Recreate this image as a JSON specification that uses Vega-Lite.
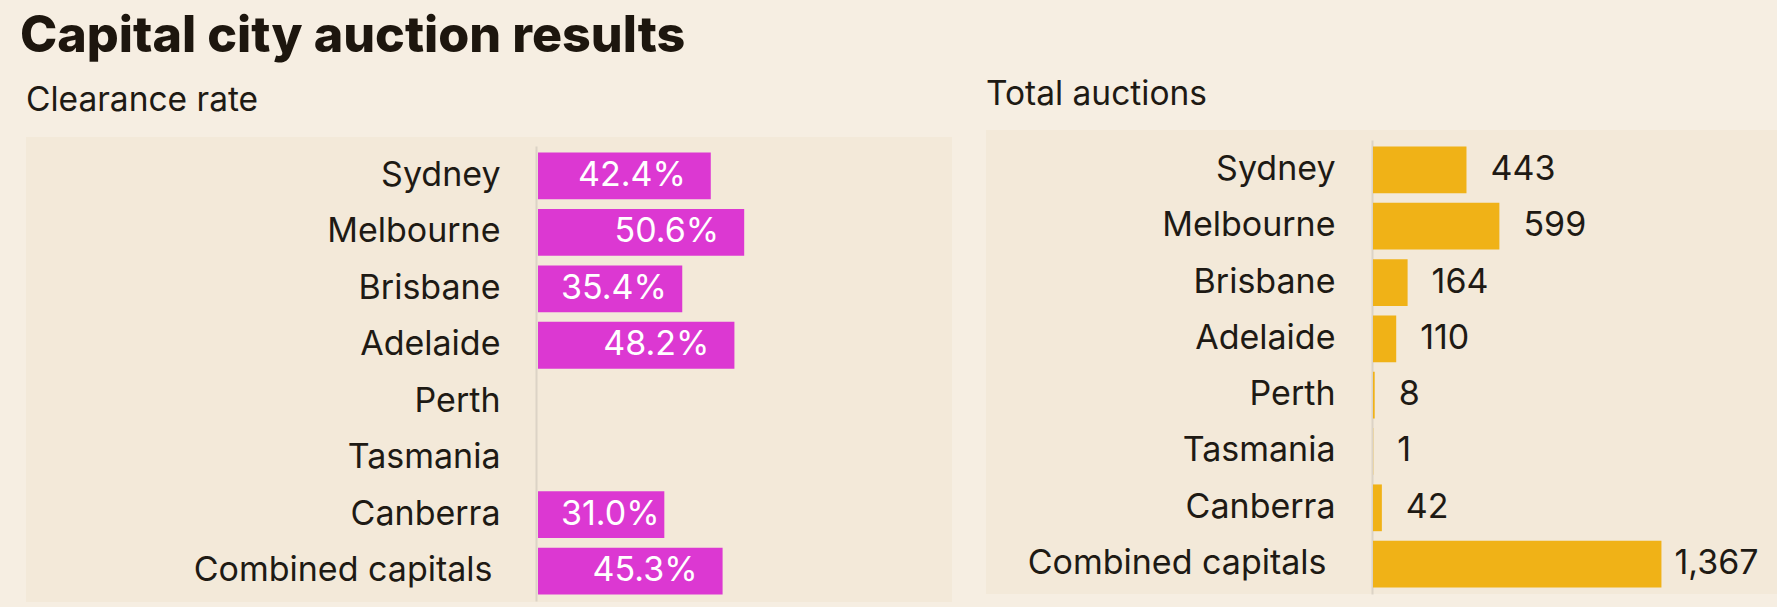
{
  "$schema": "https://vega.github.io/schema/vega-lite/v6.json",
  "background": "#F6EEE2",
  "padding": {"left": 12, "top": 11, "right": 0, "bottom": 0},
  "title": {
    "text": "Capital city auction results",
    "anchor": "start",
    "font": "Inter",
    "fontSize": 50.2,
    "fontWeight": 800,
    "color": "#1D160E",
    "offset": 14.5,
    "dx": 1
  },
  "datasets": {
    "auctions": [
      {"city": "Sydney", "clearance": 0.424, "total": 443},
      {"city": "Melbourne", "clearance": 0.506, "total": 599},
      {"city": "Brisbane", "clearance": 0.354, "total": 164},
      {"city": "Adelaide", "clearance": 0.482, "total": 110},
      {"city": "Perth", "clearance": null, "total": 8},
      {"city": "Tasmania", "clearance": null, "total": 1},
      {"city": "Canberra", "clearance": 0.31, "total": 42},
      {"city": "Combined capitals", "clearance": 0.453, "total": 1367}
    ]
  },
  "spacing": 20,
  "hconcat": [
    {
      "width": 940,
      "height": 479,
      "view": {"fill": "#F3E9D9", "stroke": "#F6EEE2", "strokeWidth": 14},
      "title": {"text": "Clearance rate", "offset": 12, "dx": 7},
      "data": {"name": "auctions"},
      "encoding": {
        "y": {
          "field": "city",
          "type": "nominal",
          "sort": null,
          "scale": {
            "domain": ["Sydney", "Melbourne", "Brisbane", "Adelaide", "Perth", "Tasmania", "Canberra", "Combined capitals"],
            "range": [16, 471],
            "paddingInner": 0.17,
            "paddingOuter": 0.115
          },
          "axis": {
            "offset": -517,
            "labelPadding": {"condition": {"test": "datum.value == 'Combined capitals'", "value": 44}, "value": 36}
          }
        }
      },
      "layer": [
        {
          "mark": {"type": "bar", "color": "#DC38D2"},
          "encoding": {
            "x": {
              "field": "clearance",
              "type": "quantitative",
              "scale": {"domain": [0, 1], "range": [519, 926.5]},
              "axis": null
            }
          }
        },
        {
          "transform": [{"filter": "datum.clearance != null && datum.clearance >= 0.4"}],
          "mark": {"type": "text", "align": "right", "dx": -25, "color": "#FFFFFF", "font": "Inter", "fontSize": 34},
          "encoding": {
            "x": {"field": "clearance", "type": "quantitative"},
            "text": {"field": "clearance", "type": "quantitative", "format": ".1%"}
          }
        },
        {
          "transform": [{"filter": "datum.clearance != null && datum.clearance < 0.4"}],
          "mark": {"type": "text", "align": "left", "dx": 23, "color": "#FFFFFF", "font": "Inter", "fontSize": 34},
          "encoding": {
            "x": {"datum": 0, "type": "quantitative"},
            "text": {"field": "clearance", "type": "quantitative", "format": ".1%"}
          }
        }
      ]
    },
    {
      "width": 791,
      "height": 464,
      "view": {"fill": "#F3E9D9", "stroke": null},
      "title": {"text": "Total auctions", "offset": 18, "dx": 0},
      "data": {"name": "auctions"},
      "encoding": {
        "y": {
          "field": "city",
          "type": "nominal",
          "sort": null,
          "scale": {
            "domain": ["Sydney", "Melbourne", "Brisbane", "Adelaide", "Perth", "Tasmania", "Canberra", "Combined capitals"],
            "range": [10, 464],
            "paddingInner": 0.17,
            "paddingOuter": 0.115
          },
          "axis": {
            "offset": -386,
            "labelPadding": {"condition": {"test": "datum.value == 'Combined capitals'", "value": 46}, "value": 37}
          }
        }
      },
      "layer": [
        {
          "mark": {"type": "bar", "color": "#F0B217"},
          "encoding": {
            "x": {
              "field": "total",
              "type": "quantitative",
              "scale": {"domain": [0, 2000], "range": [387, 809]},
              "axis": null
            }
          }
        },
        {
          "transform": [{"filter": "datum.total < 1000"}],
          "mark": {"type": "text", "align": "left", "dx": 24, "color": "#1E1A14", "font": "Inter", "fontSize": 34},
          "encoding": {
            "x": {"field": "total", "type": "quantitative"},
            "text": {"field": "total", "type": "quantitative", "format": ","}
          }
        },
        {
          "transform": [{"filter": "datum.total >= 1000"}],
          "mark": {"type": "text", "align": "left", "dx": 13, "color": "#1E1A14", "font": "Inter", "fontSize": 34},
          "encoding": {
            "x": {"field": "total", "type": "quantitative"},
            "text": {"field": "total", "type": "quantitative", "format": ","}
          }
        }
      ]
    }
  ],
  "config": {
    "axis": {
      "domainColor": "#DCD3C6",
      "domainWidth": 2,
      "ticks": false,
      "grid": false,
      "title": null,
      "labelFont": "Inter",
      "labelFontSize": 34,
      "labelColor": "#1E1A14",
      "labelLimit": 0
    },
    "title": {
      "anchor": "start",
      "frame": "group",
      "font": "Inter",
      "fontSize": 33.5,
      "fontWeight": 400,
      "color": "#1E1A14",
      "baseline": "alphabetic"
    }
  }
}
